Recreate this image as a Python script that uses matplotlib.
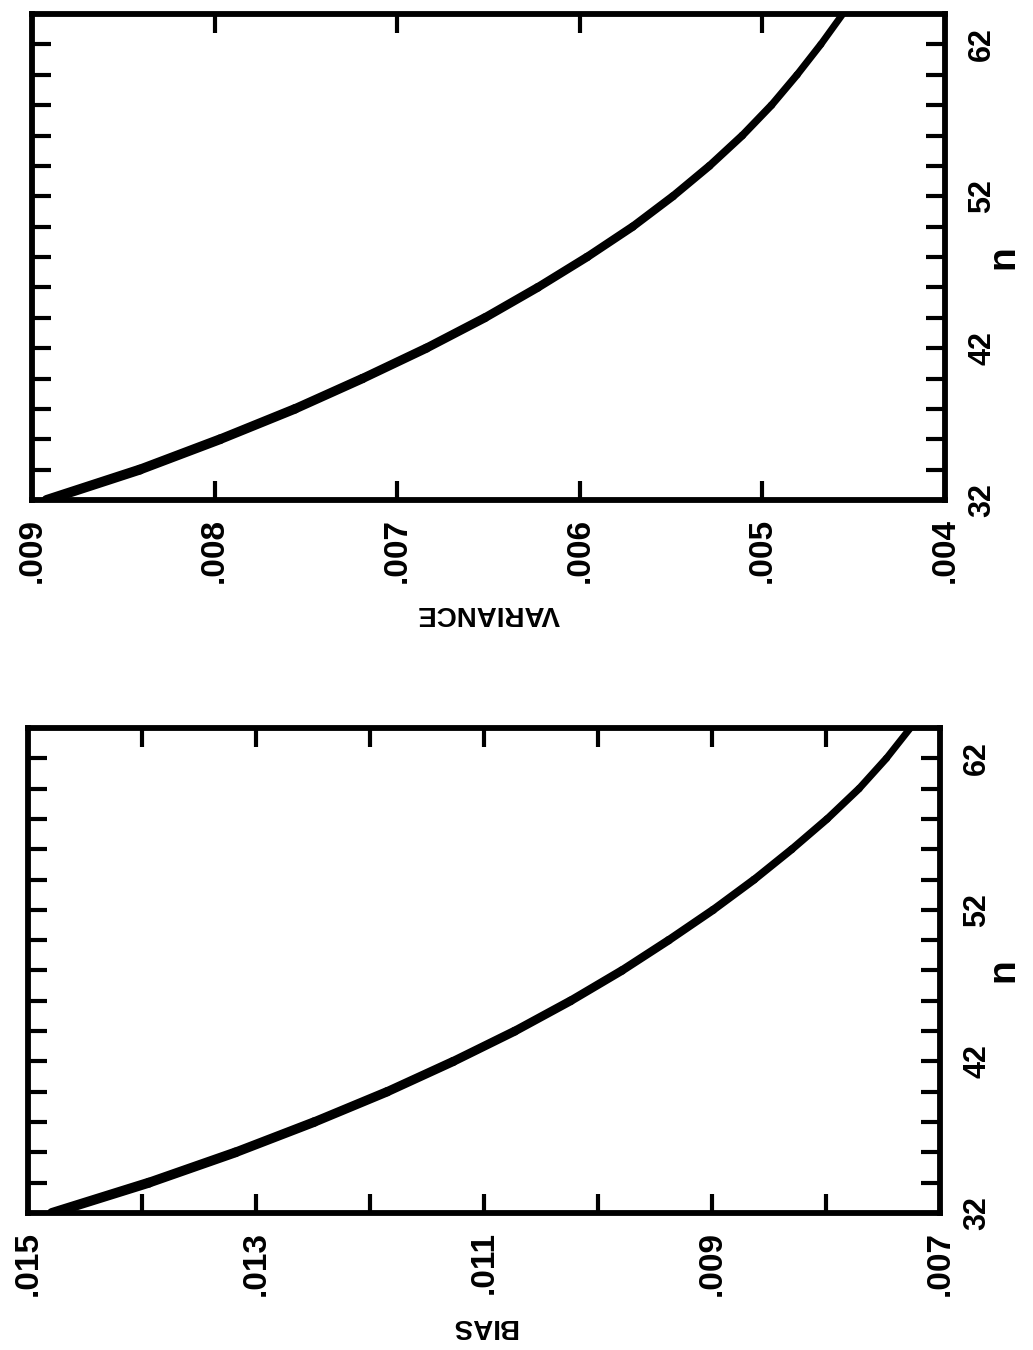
import matplotlib
matplotlib.use("Agg")
import matplotlib.pyplot as plt
from matplotlib.collections import LineCollection
from matplotlib.ticker import FixedLocator, FixedFormatter

# sample sizes
n_values = [32, 34, 36, 38, 40, 42, 44, 46, 48, 50, 52, 54, 56, 58, 60, 62, 64]

# variance of the estimator against n
variance = [0.00892, 0.00841, 0.00797, 0.00756, 0.00719, 0.00684, 0.00652,
            0.00623, 0.00596, 0.00571, 0.00549, 0.00529, 0.00511, 0.00495,
            0.00481, 0.00468, 0.00456]

# bias of the estimator against n
bias = [0.01479, 0.01394, 0.01318, 0.01249, 0.01185, 0.01127, 0.01073,
        0.01024, 0.00979, 0.00938, 0.00899, 0.00863, 0.00830, 0.00799,
        0.00771, 0.00747, 0.00726]

n_ticks = list(range(32, 65, 2))
n_tick_labels = ["32" if t == 32 else "42" if t == 42 else "52" if t == 52
                 else "62" if t == 62 else "" for t in n_ticks]

variance_ticks = [0.009, 0.008, 0.007, 0.006, 0.005, 0.004]
variance_tick_labels = [".009", ".008", ".007", ".006", ".005", ".004"]

bias_ticks = [0.015, 0.014, 0.013, 0.012, 0.011, 0.010, 0.009, 0.008, 0.007]
bias_tick_labels = [".015", "", ".013", "", ".011", "", ".009", "", ".007"]

FONT = ["Liberation Sans Narrow", "Liberation Sans", "DejaVu Sans"]
plt.rcParams["font.family"] = FONT
plt.rcParams["font.weight"] = "bold"

fig = plt.figure(figsize=(10.33, 13.5), dpi=100)
fig.patch.set_facecolor("white")

W, H = 1033.0, 1350.0


def panel(left, right, top, bottom):
    return fig.add_axes([left / W, 1 - bottom / H, (right - left) / W, (bottom - top) / H])


def style(ax, values, vlim, vticks, vlabels, vname, top, bottom):
    # the page is turned: values run along the horizontal axis, n up the side
    pts = list(zip(values, n_values))
    segs = [[pts[i], pts[i + 1]] for i in range(len(pts) - 1)]
    k = len(segs)
    widths = [7.2 - 2.2 * i / (k - 1) for i in range(k)]
    lc = LineCollection(segs, colors="black", linewidths=widths,
                        capstyle="round", joinstyle="round")
    ax.add_collection(lc)
    ax.set_xlim(*vlim)
    ax.set_ylim(32, 64)
    for s in ax.spines.values():
        s.set_linewidth(4.2)
        s.set_color("black")
    ax.xaxis.set_major_locator(FixedLocator(vticks))
    ax.xaxis.set_major_formatter(FixedFormatter(vlabels))
    ax.yaxis.set_major_locator(FixedLocator(n_ticks))
    ax.yaxis.set_major_formatter(FixedFormatter(n_tick_labels))
    ax.tick_params(axis="both", which="both", direction="in", length=14,
                   width=3, color="black", top=True, bottom=True, left=True,
                   right=True, labelbottom=True, labeltop=False,
                   labelleft=False, labelright=True, labelsize=24)
    ax.tick_params(axis="x", pad=13, labelrotation=90)
    ax.tick_params(axis="y", pad=16, labelrotation=90, labelsize=22)
    for lab in ax.get_yticklabels():
        lab.set_verticalalignment("center")
        lab.set_horizontalalignment("left")
    ax.set_xlabel(vname, rotation=180, fontsize=20, fontweight="bold",
                  labelpad=12)
    # axis title for n, set beside the n tick labels
    fig.text(1003 / W, 1 - (top + bottom) / 2 / H, "n", rotation=90,
             ha="center", va="center", fontsize=28, fontweight="bold")


ax_var = panel(32, 945, 14, 500)
style(ax_var, variance, (0.009, 0.004), variance_ticks, variance_tick_labels,
      "VARIANCE", 14, 500)

ax_bias = panel(28, 940, 728, 1213)
style(ax_bias, bias, (0.015, 0.007), bias_ticks, bias_tick_labels, "BIAS",
      728, 1213)

fig.savefig("out.png", dpi=100, facecolor="white")
